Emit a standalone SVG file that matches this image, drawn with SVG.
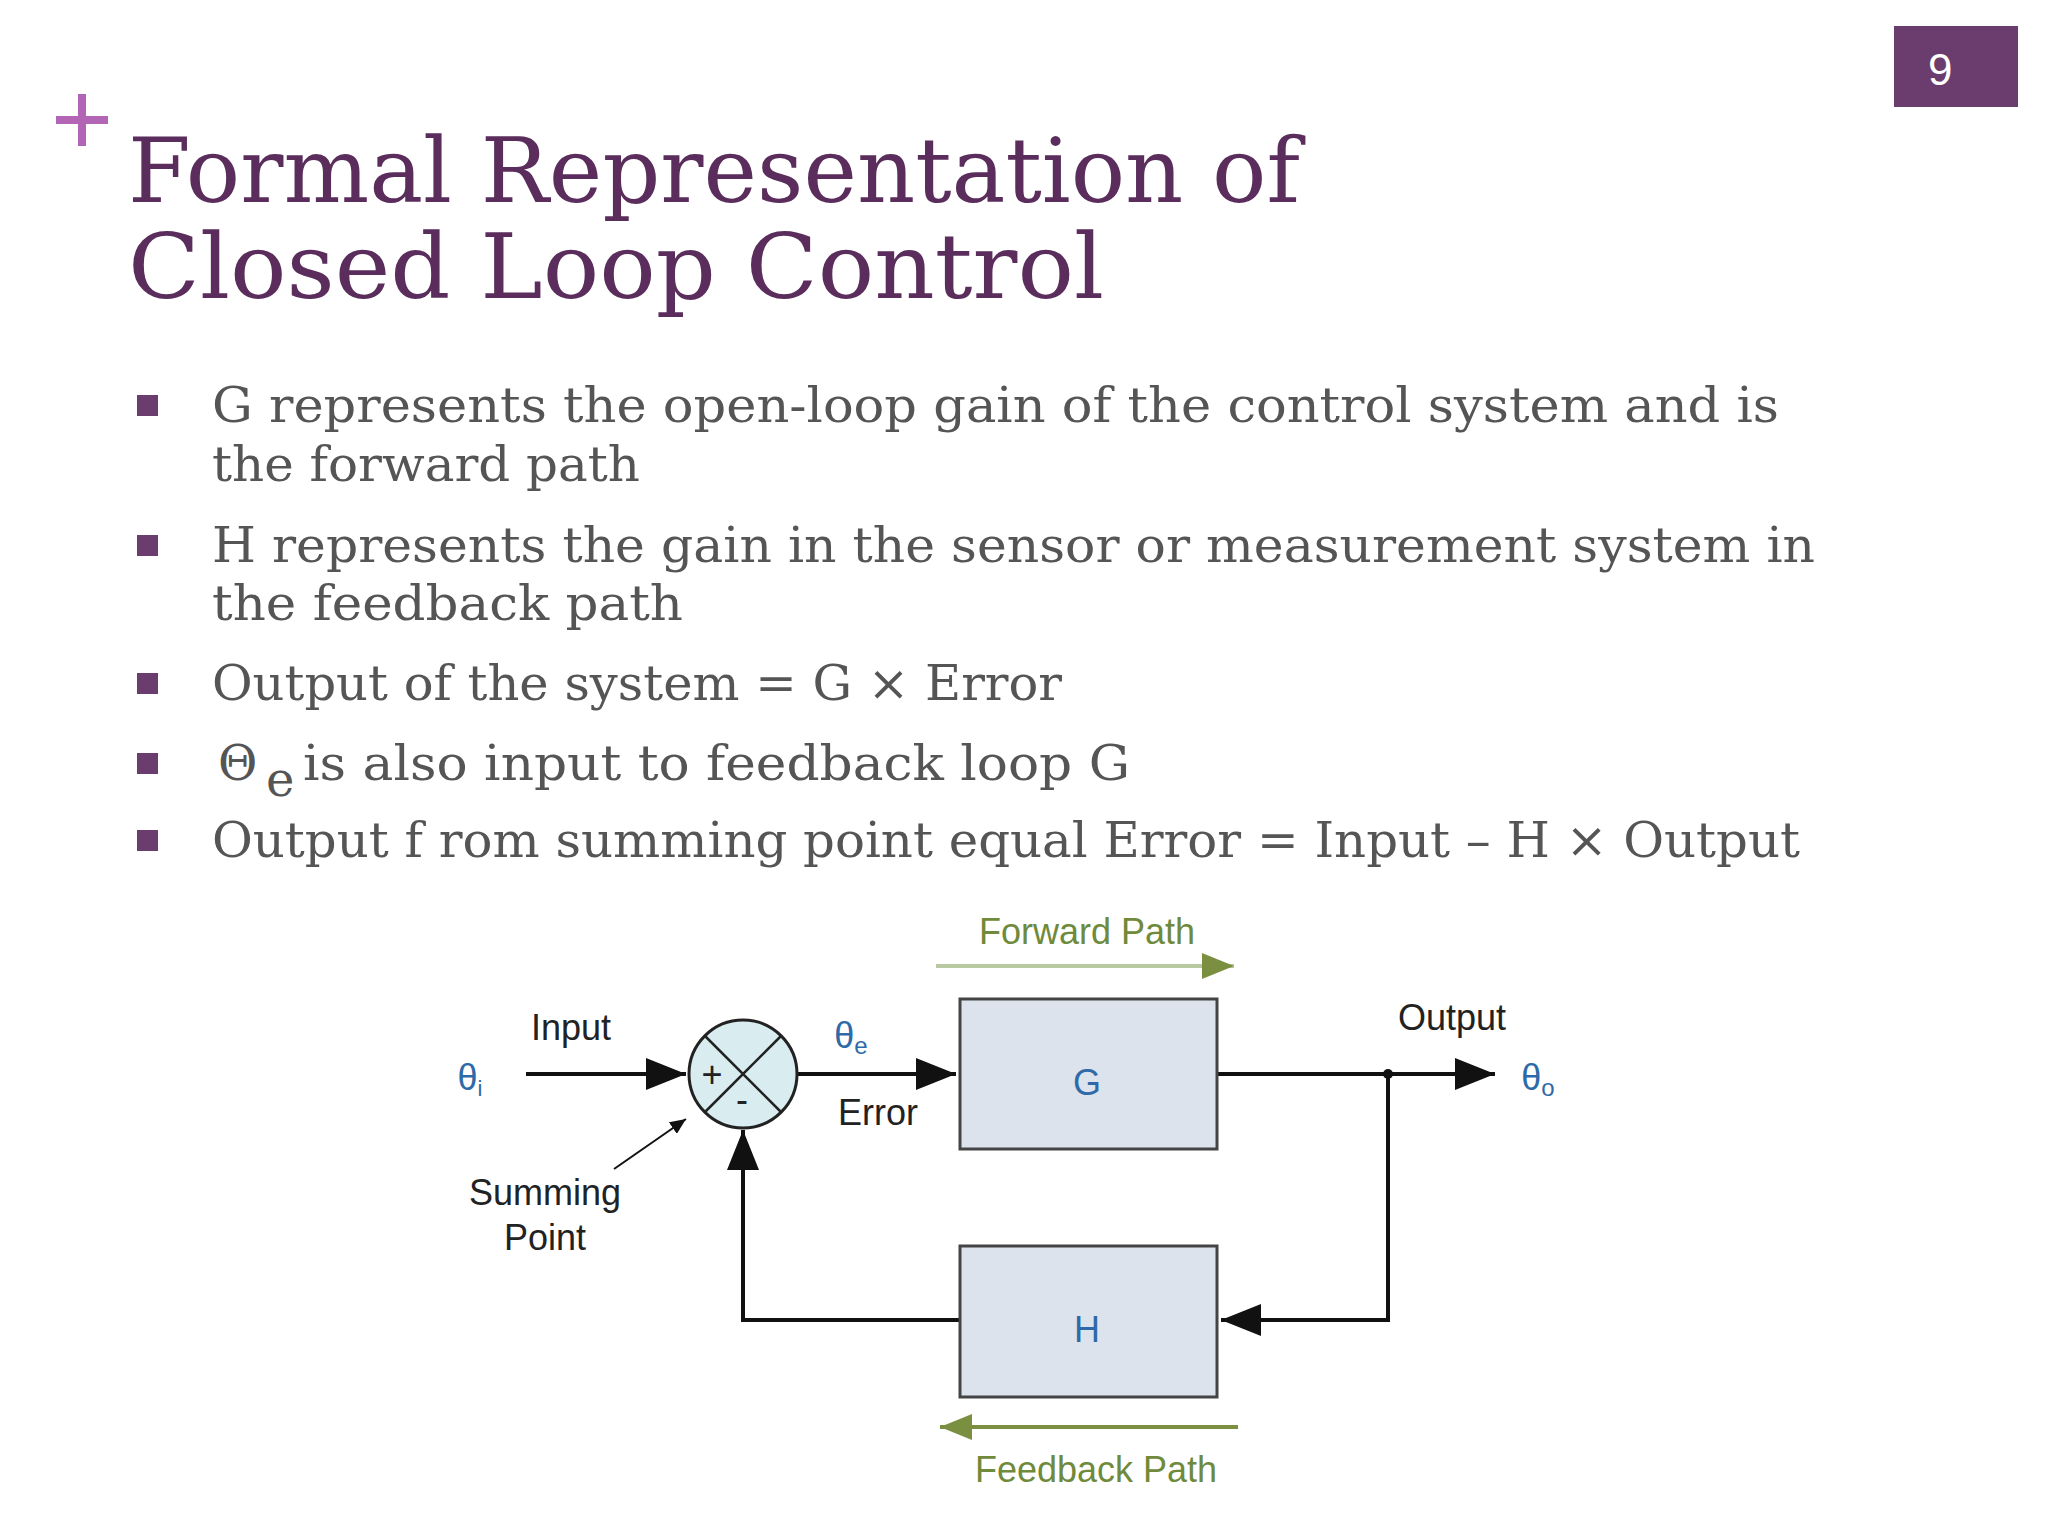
<svg xmlns="http://www.w3.org/2000/svg" width="2048" height="1536" viewBox="0 0 2048 1536">
<style>
.t{font-family:"DejaVu Serif","Liberation Serif",serif;fill:#5a2d5c;font-size:90px}
.b{font-family:"DejaVu Serif","Liberation Serif",serif;fill:#555;font-size:48px}
.d{font-family:"Liberation Sans",Arial,sans-serif;font-size:36px;fill:#222}
.g{font-family:"Liberation Sans",Arial,sans-serif;font-size:36px;fill:#6f8a3a}
.th{font-family:"Liberation Sans",Arial,sans-serif;font-size:36px;fill:#2f6aa8}
.box{fill:#dde3ec;stroke:#444;stroke-width:3}
.w{stroke:#111;stroke-width:4;fill:none}
</style>
<defs>
<marker id="ak" viewBox="0 0 10 10" refX="10" refY="5" markerWidth="40" markerHeight="32" markerUnits="userSpaceOnUse" orient="auto" preserveAspectRatio="none"><path d="M0,0L10,5L0,10z" fill="#111"/></marker>
<marker id="ag" viewBox="0 0 10 10" refX="10" refY="5" markerWidth="32" markerHeight="26" markerUnits="userSpaceOnUse" orient="auto" preserveAspectRatio="none"><path d="M0,0L10,5L0,10z" fill="#7a9040"/></marker>
<marker id="as" viewBox="0 0 10 10" refX="10" refY="5" markerWidth="16" markerHeight="14" markerUnits="userSpaceOnUse" orient="auto" preserveAspectRatio="none"><path d="M0,0L10,5L0,10z" fill="#111"/></marker>
</defs>
<rect width="2048" height="1536" fill="#fff"/>
<g id="pagenum"><rect x="1894" y="26" width="124" height="81" fill="#6b3c6e"/><text x="1928" y="85" font-family="Liberation Sans,Arial,sans-serif" font-size="44" fill="#fff">9</text></g>
<g id="plus"><path d="M82,94V146M56,120H108" stroke="#b265b5" stroke-width="8"/></g>
<g id="title"><text class="t" x="128" y="202" textLength="1172" lengthAdjust="spacingAndGlyphs">Formal Representation of</text><text class="t" x="128" y="298" textLength="976" lengthAdjust="spacingAndGlyphs">Closed Loop Control</text></g>
<g id="bullets" fill="#6b3c6e">
<rect x="137" y="395" width="21" height="21"/><rect x="137" y="535" width="21" height="21"/><rect x="137" y="673" width="21" height="21"/><rect x="137" y="753" width="21" height="21"/><rect x="137" y="830" width="21" height="21"/>
<text class="b" x="212" y="422" textLength="1567" lengthAdjust="spacingAndGlyphs">G represents the open-loop gain of the control system and is</text>
<text class="b" x="212" y="481" textLength="428" lengthAdjust="spacingAndGlyphs">the forward path</text>
<text class="b" x="212" y="562" textLength="1603" lengthAdjust="spacingAndGlyphs">H represents the gain in the sensor or measurement system in</text>
<text class="b" x="212" y="620" textLength="471" lengthAdjust="spacingAndGlyphs">the feedback path</text>
<text class="b" x="212" y="700" textLength="850" lengthAdjust="spacingAndGlyphs">Output of the system = G × Error</text>
<text class="b" x="218" y="780">Θ</text><text class="b" x="266" y="796" font-size="32">e</text><text class="b" x="303" y="780" textLength="827" lengthAdjust="spacingAndGlyphs">is also input to feedback loop G</text>
<text class="b" x="212" y="857" textLength="1588" lengthAdjust="spacingAndGlyphs">Output f rom summing point equal Error = Input – H × Output</text>
</g>
<g id="connectors">
<path class="w" d="M526,1074H686" marker-end="url(#ak)"/>
<path class="w" d="M798,1074H956" marker-end="url(#ak)"/>
<path class="w" d="M1217,1074H1495" marker-end="url(#ak)"/>
<path class="w" d="M1388,1074V1320H1221" marker-end="url(#ak)"/>
<path class="w" d="M960,1320H743V1130" marker-end="url(#ak)"/>
<path d="M614,1169L686,1119" stroke="#111" stroke-width="2" marker-end="url(#as)"/>
<circle cx="1388" cy="1074" r="5" fill="#111"/>
<path d="M936,966H1234" stroke="#b8c8a0" stroke-width="4" marker-end="url(#ag)"/>
<path d="M1238,1427H940" stroke="#7a9040" stroke-width="4" marker-end="url(#ag)"/>
</g>
<g id="sum"><circle cx="743" cy="1074" r="54" fill="#d9ecf0" stroke="#222" stroke-width="3"/><path d="M705,1036L781,1112M781,1036L705,1112" stroke="#222" stroke-width="2.5"/><text class="d" x="712" y="1087" font-size="40" text-anchor="middle">+</text><text class="d" x="742" y="1112" text-anchor="middle">-</text></g>
<g id="G"><rect class="box" x="960" y="999" width="257" height="150"/><text class="th" x="1087" y="1095" font-size="58" text-anchor="middle">G</text></g>
<g id="H"><rect class="box" x="960" y="1246" width="257" height="151"/><text class="th" x="1087" y="1342" font-size="58" text-anchor="middle">H</text></g>
<g id="labels">
<text class="th" x="470" y="1090" text-anchor="middle">θ<tspan font-size="22" dy="6">i</tspan></text>
<text class="d" x="571" y="1040" text-anchor="middle">Input</text>
<text class="th" x="851" y="1048" text-anchor="middle">θ<tspan font-size="24" dy="6">e</tspan></text>
<text class="d" x="878" y="1125" text-anchor="middle">Error</text>
<text class="d" x="1452" y="1030" text-anchor="middle">Output</text>
<text class="th" x="1538" y="1090" text-anchor="middle">θ<tspan font-size="24" dy="6">o</tspan></text>
<text class="d" x="545" y="1205" text-anchor="middle">Summing</text>
<text class="d" x="545" y="1250" text-anchor="middle">Point</text>
<text class="g" x="1087" y="944" text-anchor="middle">Forward Path</text>
<text class="g" x="1096" y="1482" text-anchor="middle">Feedback Path</text>
</g>
</svg>
